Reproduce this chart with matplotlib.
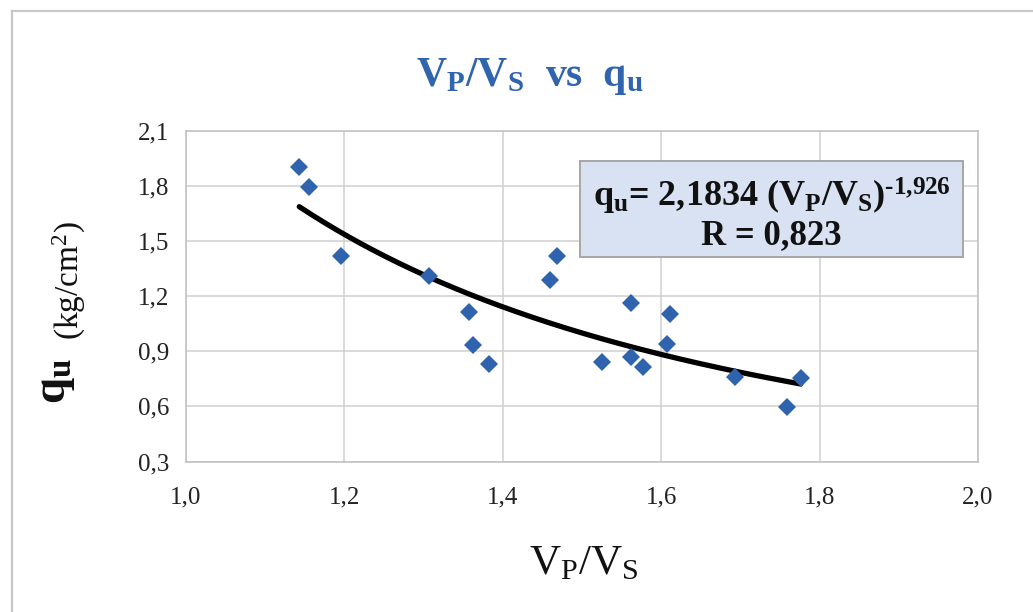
import numpy as np
import matplotlib
matplotlib.use("Agg")
import matplotlib.pyplot as plt
from matplotlib.patches import Rectangle
from matplotlib.lines import Line2D

# ---- data ----
vp_vs = [1.143, 1.155, 1.196, 1.307, 1.357, 1.363, 1.382, 1.459, 1.469,
         1.525, 1.562, 1.562, 1.577, 1.607, 1.611, 1.693, 1.759, 1.776]
qu = [1.903, 1.796, 1.417, 1.310, 1.113, 0.933, 0.833, 1.288, 1.417,
      0.844, 1.165, 0.867, 0.814, 0.938, 1.102, 0.760, 0.596, 0.757]
fit_a = 2.1834
fit_b = -1.926
x_ticks = [1.0, 1.2, 1.4, 1.6, 1.8, 2.0]
x_tick_labels = ["1,0", "1,2", "1,4", "1,6", "1,8", "2,0"]
y_ticks = [0.3, 0.6, 0.9, 1.2, 1.5, 1.8, 2.1]
y_tick_labels = ["0,3", "0,6", "0,9", "1,2", "1,5", "1,8", "2,1"]

plt.rcParams['font.family'] = ['Liberation Serif', 'DejaVu Serif']
plt.rcParams['mathtext.fontset'] = 'custom'
plt.rcParams['mathtext.rm'] = 'Liberation Serif'
plt.rcParams['mathtext.it'] = 'Liberation Serif:italic'
plt.rcParams['mathtext.bf'] = 'Liberation Serif:bold'

W, H = 1033, 612
fig = plt.figure(figsize=(W / 100, H / 100), dpi=100)

def fx(px):
    return px / W

def fy(py):
    return 1 - py / H

# outer frame lines
fig.add_artist(Line2D([fx(12), fx(12)], [0, fy(11)], color='#c8c8c8', lw=1.6,
                      transform=fig.transFigure))
fig.add_artist(Line2D([fx(12), 1], [fy(11), fy(11)], color='#c8c8c8', lw=1.6,
                      transform=fig.transFigure))

left, right, top, bottom = 186, 978, 131, 461.5
ax = fig.add_axes([fx(left), fy(bottom), fx(right - left), (bottom - top) / H])

ax.set_xlim(1.0, 2.0)
ax.set_ylim(0.3, 2.1)
ax.set_xticks(x_ticks)
ax.set_xticklabels(x_tick_labels)
ax.set_yticks(y_ticks)
ax.set_yticklabels(y_tick_labels)
ax.tick_params(length=0, labelsize=18, colors='#222222')
ax.tick_params(axis='x', pad=18)
ax.tick_params(axis='y', pad=12)
ax.grid(True, color='#d0d0d0', lw=1.1)
ax.set_axisbelow(True)
for s in ax.spines.values():
    s.set_color('#c0c0c0')
    s.set_linewidth(1.1)

# trend line
xf = np.linspace(min(vp_vs), max(vp_vs), 200)
ax.plot(xf, fit_a * xf ** fit_b, color='black', lw=3.8, solid_capstyle='round', zorder=3)

# data points
ax.plot(vp_vs, qu, linestyle='none', marker='D', markersize=9,
        color='#3063ad', markeredgewidth=0, zorder=4)

# equation box
bx0, bx1, by0, by1 = 580, 963, 161, 257
fig.add_artist(Rectangle((fx(bx0), fy(by1)), fx(bx1 - bx0), (by1 - by0) / H,
                         transform=fig.transFigure, facecolor='#d9e2f2',
                         edgecolor='#a6a6a6', lw=1.4, zorder=5))
cx = fx((bx0 + bx1) / 2)
eq = (r'$\mathbf{q_u}$= 2,1834 (V$_\mathbf{P}$/V$_\mathbf{S}$)$^{\mathbf{'
      + '\u2010' + r'1{,}926}}$')
fig.text(cx, fy(207), eq,
         ha='center', va='baseline', fontsize=26, fontweight='bold', color='#111111', zorder=6)
fig.text(cx, fy(244), 'R = 0,823', ha='center', va='baseline', fontsize=25,
         fontweight='bold', color='#111111', zorder=6)

# title
fig.text(fx(530), fy(86), r'$\mathbf{V_P/V_S}$  vs  $\mathbf{q_u}$', ha='center',
         va='baseline', fontsize=30, fontweight='bold', color='#3064ae')

# x label
fig.text(fx(584), fy(574), r'$\mathrm{V_P/V_S}$', ha='center', va='baseline',
         fontsize=31, color='#111111')

# y label
fig.text(fx(56), fy(381), r'$\mathbf{q_u}$', ha='center', va='center', rotation=90,
         fontsize=34, color='#111111')
fig.text(fx(69), fy(281), r'(kg/cm$^2$)', ha='center', va='center', rotation=90,
         fontsize=24, color='#111111')

fig.savefig('out.png', dpi=100)
